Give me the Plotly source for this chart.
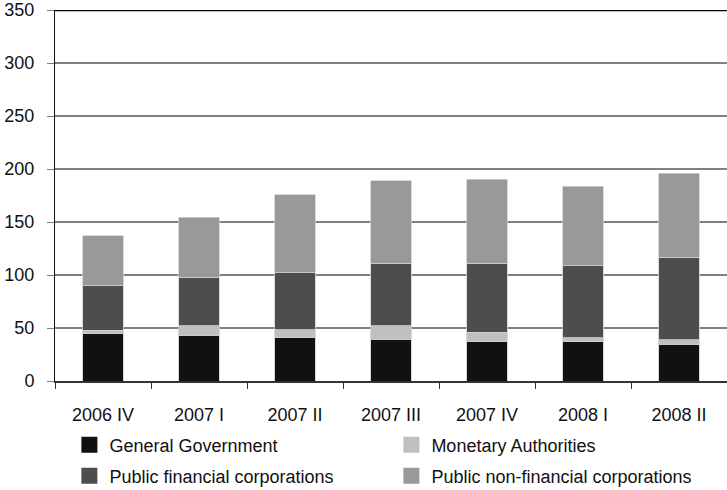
import plotly.graph_objects as go

categories = ["2006 IV", "2007 I", "2007 II", "2007 III", "2007 IV", "2008 I", "2008 II"]
general_government = [44.6, 43.1, 40.6, 39.6, 37.1, 36.8, 34.6]
monetary_authorities = [3.5, 9.1, 7.8, 12.6, 8.8, 3.8, 4.1]
public_financial = [41.8, 45.9, 54.4, 59.1, 65.4, 67.9, 78.0]
public_nonfinancial = [46.9, 56.3, 72.7, 77.4, 79.0, 75.2, 79.2]
y_ticks = [0, 50, 100, 150, 200, 250, 300, 350]

series = [
    ("General Government", general_government, "#111111", "legend"),
    ("Monetary Authorities", monetary_authorities, "#c0c0c0", "legend"),
    ("Public financial corporations", public_financial, "#4d4d4d", "legend2"),
    ("Public non-financial corporations", public_nonfinancial, "#999999", "legend2"),
]

fig = go.Figure()
for name, vals, col, lg in series:
    fig.add_trace(go.Bar(x=categories, y=vals, name=name, showlegend=False,
                         marker=dict(color=col, line=dict(color="#d0d0d0", width=0.8))))
for name, vals, col, lg in series:
    fig.add_trace(go.Scatter(x=[None], y=[None], mode="markers", name=name, legend=lg,
                             marker=dict(symbol="square", size=18, color=col)))

FONT = "Liberation Sans, Arial, sans-serif"
leg_common = dict(orientation="h", x=0.0214, xanchor="left", yanchor="middle",
                  traceorder="normal", entrywidth=277, font=dict(size=18, family=FONT),
                  bgcolor="rgba(0,0,0,0)")
fig.update_layout(
    barmode="stack",
    bargap=0.58,
    width=727, height=490,
    margin=dict(l=55, r=0, t=10, b=109, autoexpand=False),
    paper_bgcolor="white", plot_bgcolor="white",
    font=dict(family=FONT, size=18, color="#111111"),
    showlegend=True,
    legend=dict(y=-0.1725, **leg_common),
    legend2=dict(y=-0.256, **leg_common),
)
fig.update_xaxes(showgrid=False, showline=True, linecolor="#333333", linewidth=1.5,
                 ticks="outside", tickson="boundaries", ticklen=6, tickcolor="#333333",
                 tickfont=dict(size=18), automargin=False, ticklabelstandoff=17)
fig.update_yaxes(range=[0, 350], tickvals=y_ticks, showgrid=True, gridcolor="#808080",
                 gridwidth=1.5, showline=True, linecolor="#111111", linewidth=1,
                 ticks="outside", ticklen=7, tickcolor="#808080", zeroline=False,
                 tickfont=dict(size=18), automargin=False, ticklabelstandoff=9)
fig.add_shape(type="line", xref="paper", yref="y", x0=0, x1=1, y0=350, y1=350,
              line=dict(color="black", width=2.5))

fig.write_html("out.html", config={"displayModeBar": False},
               post_script="document.body.style.margin='0';document.body.style.overflow='hidden';")
